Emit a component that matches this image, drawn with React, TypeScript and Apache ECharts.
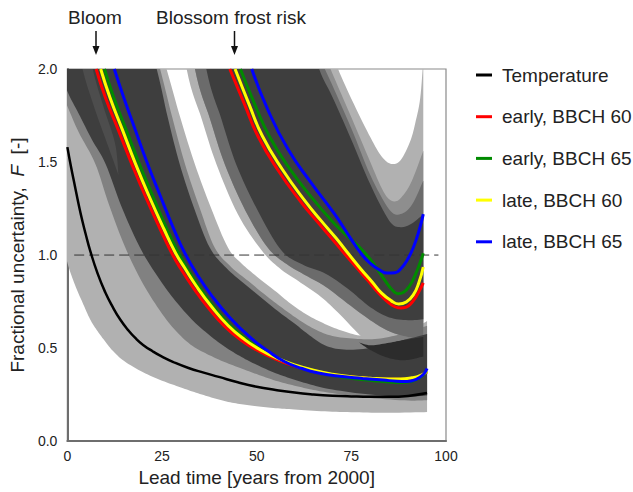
import React, { useEffect, useRef } from "react";
import * as echarts from "echarts";

const xTicks = [0, 25, 50, 75, 100];
const yTicks = [0, 0.5, 1.0, 1.5, 2.0];

const legendNames = ["Temperature", "early, BBCH 60", "early, BBCH 65", "late, BBCH 60", "late, BBCH 65"];

// Temperature line
const tempLine = [[0,1.58],[1,1.47],[2,1.37],[3,1.27],[4,1.18],[5,1.1],[6,1.025],[8,0.9],[10,0.8],[12,0.72],[14,0.652],[16,0.598],[18,0.553],[20,0.517],[22.5,0.483],[25,0.454],[28,0.425],[32,0.393],[36,0.368],[40,0.345],[45,0.316],[50,0.292],[55,0.275],[60,0.261],[65,0.251],[70,0.244],[75,0.24],[80,0.238],[85,0.238],[90,0.243],[95,0.258]];

// Bloom group lines
const bloomRed = [[7.6,2.0],[10,1.85],[13.5,1.67],[17,1.49],[20.5,1.32],[24.5,1.14],[27.7,1.005],[30,0.925],[33,0.832],[37,0.722],[41.5,0.617],[46,0.541],[50,0.49],[55,0.44],[59,0.41],[64,0.381],[69,0.359],[74,0.346],[80,0.336],[85,0.332],[88,0.332],[91,0.338],[93,0.348],[95,0.372]];
const bloomYellow = [[8.8,2.0],[11.2,1.85],[14.6,1.67],[18,1.49],[21.5,1.32],[25.5,1.14],[28.6,1.01],[31,0.93],[34,0.835],[38,0.725],[42.5,0.62],[47,0.543],[51,0.49],[56,0.44],[60,0.41],[65,0.381],[70,0.36],[75,0.346],[80,0.338],[85,0.334],[88,0.334],[91,0.34],[93,0.35],[95,0.375]];
const bloomGreen = [[9.8,2.0],[12.2,1.85],[15.6,1.67],[19,1.49],[22.5,1.32],[26.3,1.14],[29.4,1.01],[32,0.915],[35,0.822],[39,0.712],[43.5,0.612],[48,0.536],[52,0.482],[57,0.432],[61,0.401],[66,0.371],[71,0.35],[76,0.335],[81,0.325],[85,0.318],[88,0.315],[91,0.322],[93,0.34],[95,0.375]];
const bloomBlue = [[12.4,2.0],[15,1.84],[18,1.67],[21,1.5],[24.5,1.32],[28,1.145],[30.9,1.015],[34,0.905],[38,0.785],[43,0.662],[48.6,0.552],[53,0.484],[57.3,0.428],[62,0.39],[66,0.367],[72,0.348],[78,0.337],[83.5,0.328],[87,0.322],[89.7,0.321],[92,0.331],[94,0.358],[95,0.39]];

// Frost group lines
const frostRed = [[42.9,2.0],[46.8,1.81],[50.3,1.64],[55.6,1.457],[61.7,1.285],[66,1.18],[70,1.085],[73.5,1.0],[76.5,0.93],[79.5,0.86],[82,0.8],[84.5,0.75],[86.5,0.722],[88,0.715],[89.5,0.72],[91,0.745],[92.5,0.79],[94,0.85]];
const frostYellow = [[44.3,2.0],[48,1.81],[51.5,1.64],[56.8,1.46],[62.8,1.29],[67,1.185],[71,1.09],[74.5,1.0],[77.5,0.925],[80.5,0.855],[83,0.795],[85.5,0.755],[87.5,0.737],[89.5,0.748],[91.4,0.787],[92.8,0.85],[94,0.936]];
const frostGreen = [[45.7,2.0],[49.5,1.81],[53.3,1.64],[58.5,1.47],[64.5,1.31],[70,1.18],[74,1.1],[77,1.045],[79.5,0.99],[82,0.92],[84,0.86],[85.7,0.815],[87.3,0.792],[88.8,0.8],[90.4,0.835],[91.8,0.89],[93,0.95],[94,1.01]];
const frostBlue = [[48.7,2.0],[52.9,1.783],[58.2,1.571],[64.3,1.39],[70.4,1.225],[74.8,1.09],[77.5,1.01],[80,0.955],[82.5,0.92],[84.5,0.903],[86.5,0.905],[88,0.925],[89.8,0.975],[91.4,1.042],[93,1.14],[94,1.22]];

// Uncertainty bands (lower / upper bounds)
const tempBandLow = [[-3,1.2],[0,0.96],[2,0.84],[4,0.745],[6,0.655],[8,0.59],[10,0.535],[12,0.485],[15,0.43],[20,0.37],[25,0.325],[30,0.288],[34,0.26],[38,0.235],[42,0.213],[46,0.198],[50,0.187],[55,0.177],[60,0.17],[68,0.16],[76,0.155],[85,0.152],[95,0.156]];
const tempBandHigh = [[-3,3.0],[0,2.5],[5,2.1],[10,1.75],[15,1.45],[20,1.2],[25,1.0],[30,0.85],[35,0.72],[40,0.62],[50,0.5],[60,0.42],[70,0.37],[80,0.34],[95,0.33]];

const bloomLowB = [[-3,1.95],[0,1.8],[3,1.66],[7.4,1.49],[11,1.27],[15.3,1.04],[20,0.845],[25,0.685],[29,0.585],[33,0.512],[37.5,0.462],[41.5,0.425],[46,0.39],[50,0.36],[55,0.325],[60,0.298],[65,0.275],[70,0.258],[80,0.232],[90,0.218],[95,0.22]];
const bloomLowD = [[-3,2.05],[0,1.88],[3,1.76],[6.5,1.62],[10.1,1.49],[14.5,1.25],[19.7,1.02],[25,0.85],[28.5,0.755],[32.8,0.655],[37,0.578],[41.5,0.508],[46,0.452],[50,0.41],[55,0.365],[60,0.33],[65,0.3],[70,0.277],[80,0.25],[90,0.24],[95,0.245]];
const bloomUpA = [[19,2.5],[26.2,2.0],[29.8,1.74],[33.7,1.487],[38,1.25],[42.4,1.04],[46,0.955],[50,0.885],[54.7,0.81],[59,0.738],[63.4,0.678],[68,0.63],[73,0.59],[78,0.565],[85,0.56],[90,0.59],[95,0.645]];
const bloomUpB = [[18,2.5],[24.5,2.0],[27.7,1.74],[31.1,1.487],[35,1.25],[38.9,1.04],[43.3,0.935],[47.8,0.86],[52.3,0.785],[56.8,0.715],[61.3,0.65],[65.5,0.6],[70,0.565],[76,0.55],[82,0.55],[88,0.575],[95,0.62]];
const bloomUpD = [[17,2.5],[23.6,2.0],[26.5,1.74],[29.7,1.487],[33.5,1.25],[37.6,1.04],[42,0.93],[46.5,0.85],[51,0.775],[55.5,0.7],[60,0.632],[64,0.568],[68,0.515],[73,0.492],[80,0.5],[88,0.54],[95,0.575]];
const bloomStripeLow = [[1,2.3],[4,2.0],[7,1.8],[10.5,1.6],[13.5,1.43]];
const bloomStripeHigh = [[4,2.3],[6.7,2.0],[9.5,1.8],[12.6,1.6],[13.5,1.43]];

const frostLowA = [[27,2.6],[31.5,2.0],[35.5,1.73],[39.4,1.487],[45,1.22],[51.2,1.028],[56,0.93],[61,0.86],[67,0.775],[72,0.68],[78,0.555],[82,0.5],[86,0.46],[90,0.45],[94,0.47]];
const frostLowB = [[29,2.6],[33.7,2.0],[37.7,1.73],[41.6,1.487],[47,1.24],[52.9,1.04],[58,0.95],[63,0.89],[68.2,0.83],[74,0.74],[80,0.65],[85,0.59],[90,0.56],[94,0.56]];
const frostLowD = [[32,2.6],[36.7,2.0],[40.7,1.73],[44.6,1.487],[50,1.25],[56.4,1.028],[62,0.95],[68.2,0.9],[74,0.82],[80,0.72],[85,0.665],[90,0.65],[94,0.655]];
const frostUpA = [[60,3.0],[66,2.4],[69.5,2.13],[71.5,2.0],[75.7,1.81],[80.1,1.63],[83,1.53],[85.5,1.49],[88,1.51],[90.6,1.615],[92,1.72],[93.2,1.845],[94,2.05]];
const frostUpB = [[58,3.0],[64.5,2.25],[69.5,2.0],[75,1.74],[80,1.5],[83,1.36],[85,1.3],[87,1.29],[89,1.33],[91,1.4],[94,1.56]];
const frostUpC = [[57,3.0],[63,2.2],[68,2.0],[75,1.68],[80,1.43],[85,1.245],[88,1.22],[91,1.27],[94,1.4]];
const frostUpD = [[55,3.0],[62,2.3],[66.5,2.0],[70,1.85],[75,1.62],[80,1.38],[85,1.185],[88,1.15],[91,1.17],[94,1.22]];
// overlap shadow where the frost lower fringe meets the bloom band
const shadowLow = [[77,0.53],[80,0.49],[84,0.452],[88,0.435],[91,0.44],[94,0.455]];
const shadowHigh = [[77,0.53],[80,0.515],[84,0.525],[88,0.54],[91,0.55],[94,0.56]];

const refLine = [[1.8,1.0],[98,1.0]];

const LIGHT = "#b1b1b1";
const MED = "#818181";
const MED2 = "#6b6b6b";
const DARK = "#3e3e3e";

function catmull(pts: number[][], seg = 8): number[][] {
  if (pts.length < 3) return pts;
  const out: number[][] = [];
  for (let i = 0; i < pts.length - 1; i++) {
    const p0 = pts[i - 1] || pts[i];
    const p1 = pts[i];
    const p2 = pts[i + 1];
    const p3 = pts[i + 2] || p2;
    for (let k = 0; k < seg; k++) {
      const t = k / seg, t2 = t * t, t3 = t2 * t;
      const f = (a: number, b: number, c: number, d: number) =>
        0.5 * (2 * b + (-a + c) * t + (2 * a - 5 * b + 4 * c - d) * t2 + (-a + 3 * b - 3 * c + d) * t3);
      out.push([f(p0[0], p1[0], p2[0], p3[0]), f(p0[1], p1[1], p2[1], p3[1])]);
    }
  }
  out.push(pts[pts.length - 1]);
  return out;
}

function band(lower: number[][], upper: number[][], fill: string) {
  return {
    type: "custom",
    silent: true,
    clip: true,
    data: [[50, 1]],
    renderItem: (_params: any, api: any) => {
      const lo = catmull(lower.map((p) => api.coord(p)));
      const up = catmull(upper.map((p) => api.coord(p))).reverse();
      return { type: "polygon", shape: { points: lo.concat(up) }, style: { fill, stroke: null } };
    },
  };
}

function line(name: string, data: number[][], color: string, width = 3) {
  return {
    type: "line",
    name,
    data,
    color,
    smooth: 0.5,
    showSymbol: false,
    symbol: "none",
    silent: true,
    lineStyle: { color, width },
  };
}

export default function App() {
  const ref = useRef<HTMLDivElement>(null);
  useEffect(() => {
    if (!ref.current) return;
    const chart = echarts.init(ref.current, null, { renderer: "svg" });
    const font = "Liberation Sans, Arial, Helvetica, sans-serif";
    chart.setOption({
      animation: false,
      textStyle: { fontFamily: font },
      grid: { left: 65, right: 187, top: 69, bottom: 45, show: true, borderColor: "#8a8a8a", borderWidth: 1.2, backgroundColor: "transparent" },
      legend: {
        data: legendNames,
        orient: "vertical",
        left: 476,
        top: 64,
        padding: 0,
        itemWidth: 16,
        itemHeight: 3,
        icon: "rect",
        itemGap: 19.7,
        selectedMode: false,
        textStyle: { fontSize: 19, color: "#222", lineHeight: 22, fontFamily: font, padding: [0, 0, 0, 5] },
      },
      xAxis: {
        type: "value",
        min: 0,
        max: 100,
        interval: 25,
        name: "Lead time [years from 2000]",
        nameLocation: "middle",
        nameGap: 22,
        nameTextStyle: { fontSize: 19, color: "#222", fontFamily: font },
        axisLine: { show: true, onZero: false, lineStyle: { color: "#6e6e6e", width: 2 } },
        axisTick: { show: false },
        splitLine: { show: false },
        axisLabel: { fontSize: 14, color: "#222", margin: 8, formatter: (v: number) => (xTicks.includes(v) ? String(v) : "") },
      },
      yAxis: {
        type: "value",
        min: 0,
        max: 2,
        interval: 0.5,
        name: "Fractional uncertainty,  {i|F}  [-]",
        nameLocation: "middle",
        nameGap: 36,
        nameTextStyle: { fontSize: 19, color: "#222", fontFamily: font, rich: { i: { fontStyle: "italic", fontSize: 19, color: "#222", fontFamily: font } } },
        axisLine: { show: true, lineStyle: { color: "#6e6e6e", width: 2 } },
        axisTick: { show: false },
        splitLine: { show: false },
        axisLabel: { fontSize: 14, color: "#222", margin: 10, formatter: (v: number) => (yTicks.includes(v) ? v.toFixed(1) : "") },
      },
      graphic: [
        { type: "text", left: 68, top: 8, style: { text: "Bloom", fontSize: 19, fill: "#222", fontFamily: font } },
        { type: "line", shape: { x1: 96, y1: 31, x2: 96, y2: 48 }, style: { stroke: "#111", lineWidth: 1.5 } },
        { type: "polygon", shape: { points: [[92.5, 46], [99.5, 46], [96, 55]] }, style: { fill: "#111" } },
        { type: "text", left: 156, top: 8, style: { text: "Blossom frost risk", fontSize: 19, fill: "#222", fontFamily: font } },
        { type: "line", shape: { x1: 234.5, y1: 31, x2: 234.5, y2: 48 }, style: { stroke: "#111", lineWidth: 1.5 } },
        { type: "polygon", shape: { points: [[231, 46], [238, 46], [234.5, 55]] }, style: { fill: "#111" } },
      ],
      series: [
        band(tempBandLow, tempBandHigh, LIGHT),
        band(bloomLowB, bloomUpA, LIGHT),
        band(frostLowA, frostUpA, LIGHT),
        band(bloomLowB, bloomUpB, MED),
        band(frostLowB, frostUpB, "#8e8e8e"),
        band(frostLowB, frostUpC, MED2),
        band(bloomLowD, bloomUpD, DARK),
        band(frostLowD, frostUpD, DARK),
        band(bloomStripeLow, bloomStripeHigh, "#4d4d4d"),
        band(shadowLow, shadowHigh, "#2c2c2c"),
        {
          type: "line",
          name: "ref",
          data: refLine,
          showSymbol: false,
          symbol: "none",
          silent: true,
          lineStyle: { color: "#333", width: 1, type: [10, 5] },
        },
        line("Temperature", tempLine, "#000000", 2.5),
        line("early, BBCH 60", bloomRed, "#ff0000"),
        line("early, BBCH 60", frostRed, "#ff0000"),
        line("early, BBCH 65", bloomGreen, "#008a00"),
        line("early, BBCH 65", frostGreen, "#008a00"),
        line("late, BBCH 60", bloomYellow, "#ffff00"),
        line("late, BBCH 60", frostYellow, "#ffff00"),
        line("late, BBCH 65", bloomBlue, "#0000ff"),
        line("late, BBCH 65", frostBlue, "#0000ff"),
      ],
    });
    return () => chart.dispose();
  }, []);
  return <div ref={ref} style={{ width: 633, height: 492, position: "absolute", left: 0, top: 0 }} />;
}
